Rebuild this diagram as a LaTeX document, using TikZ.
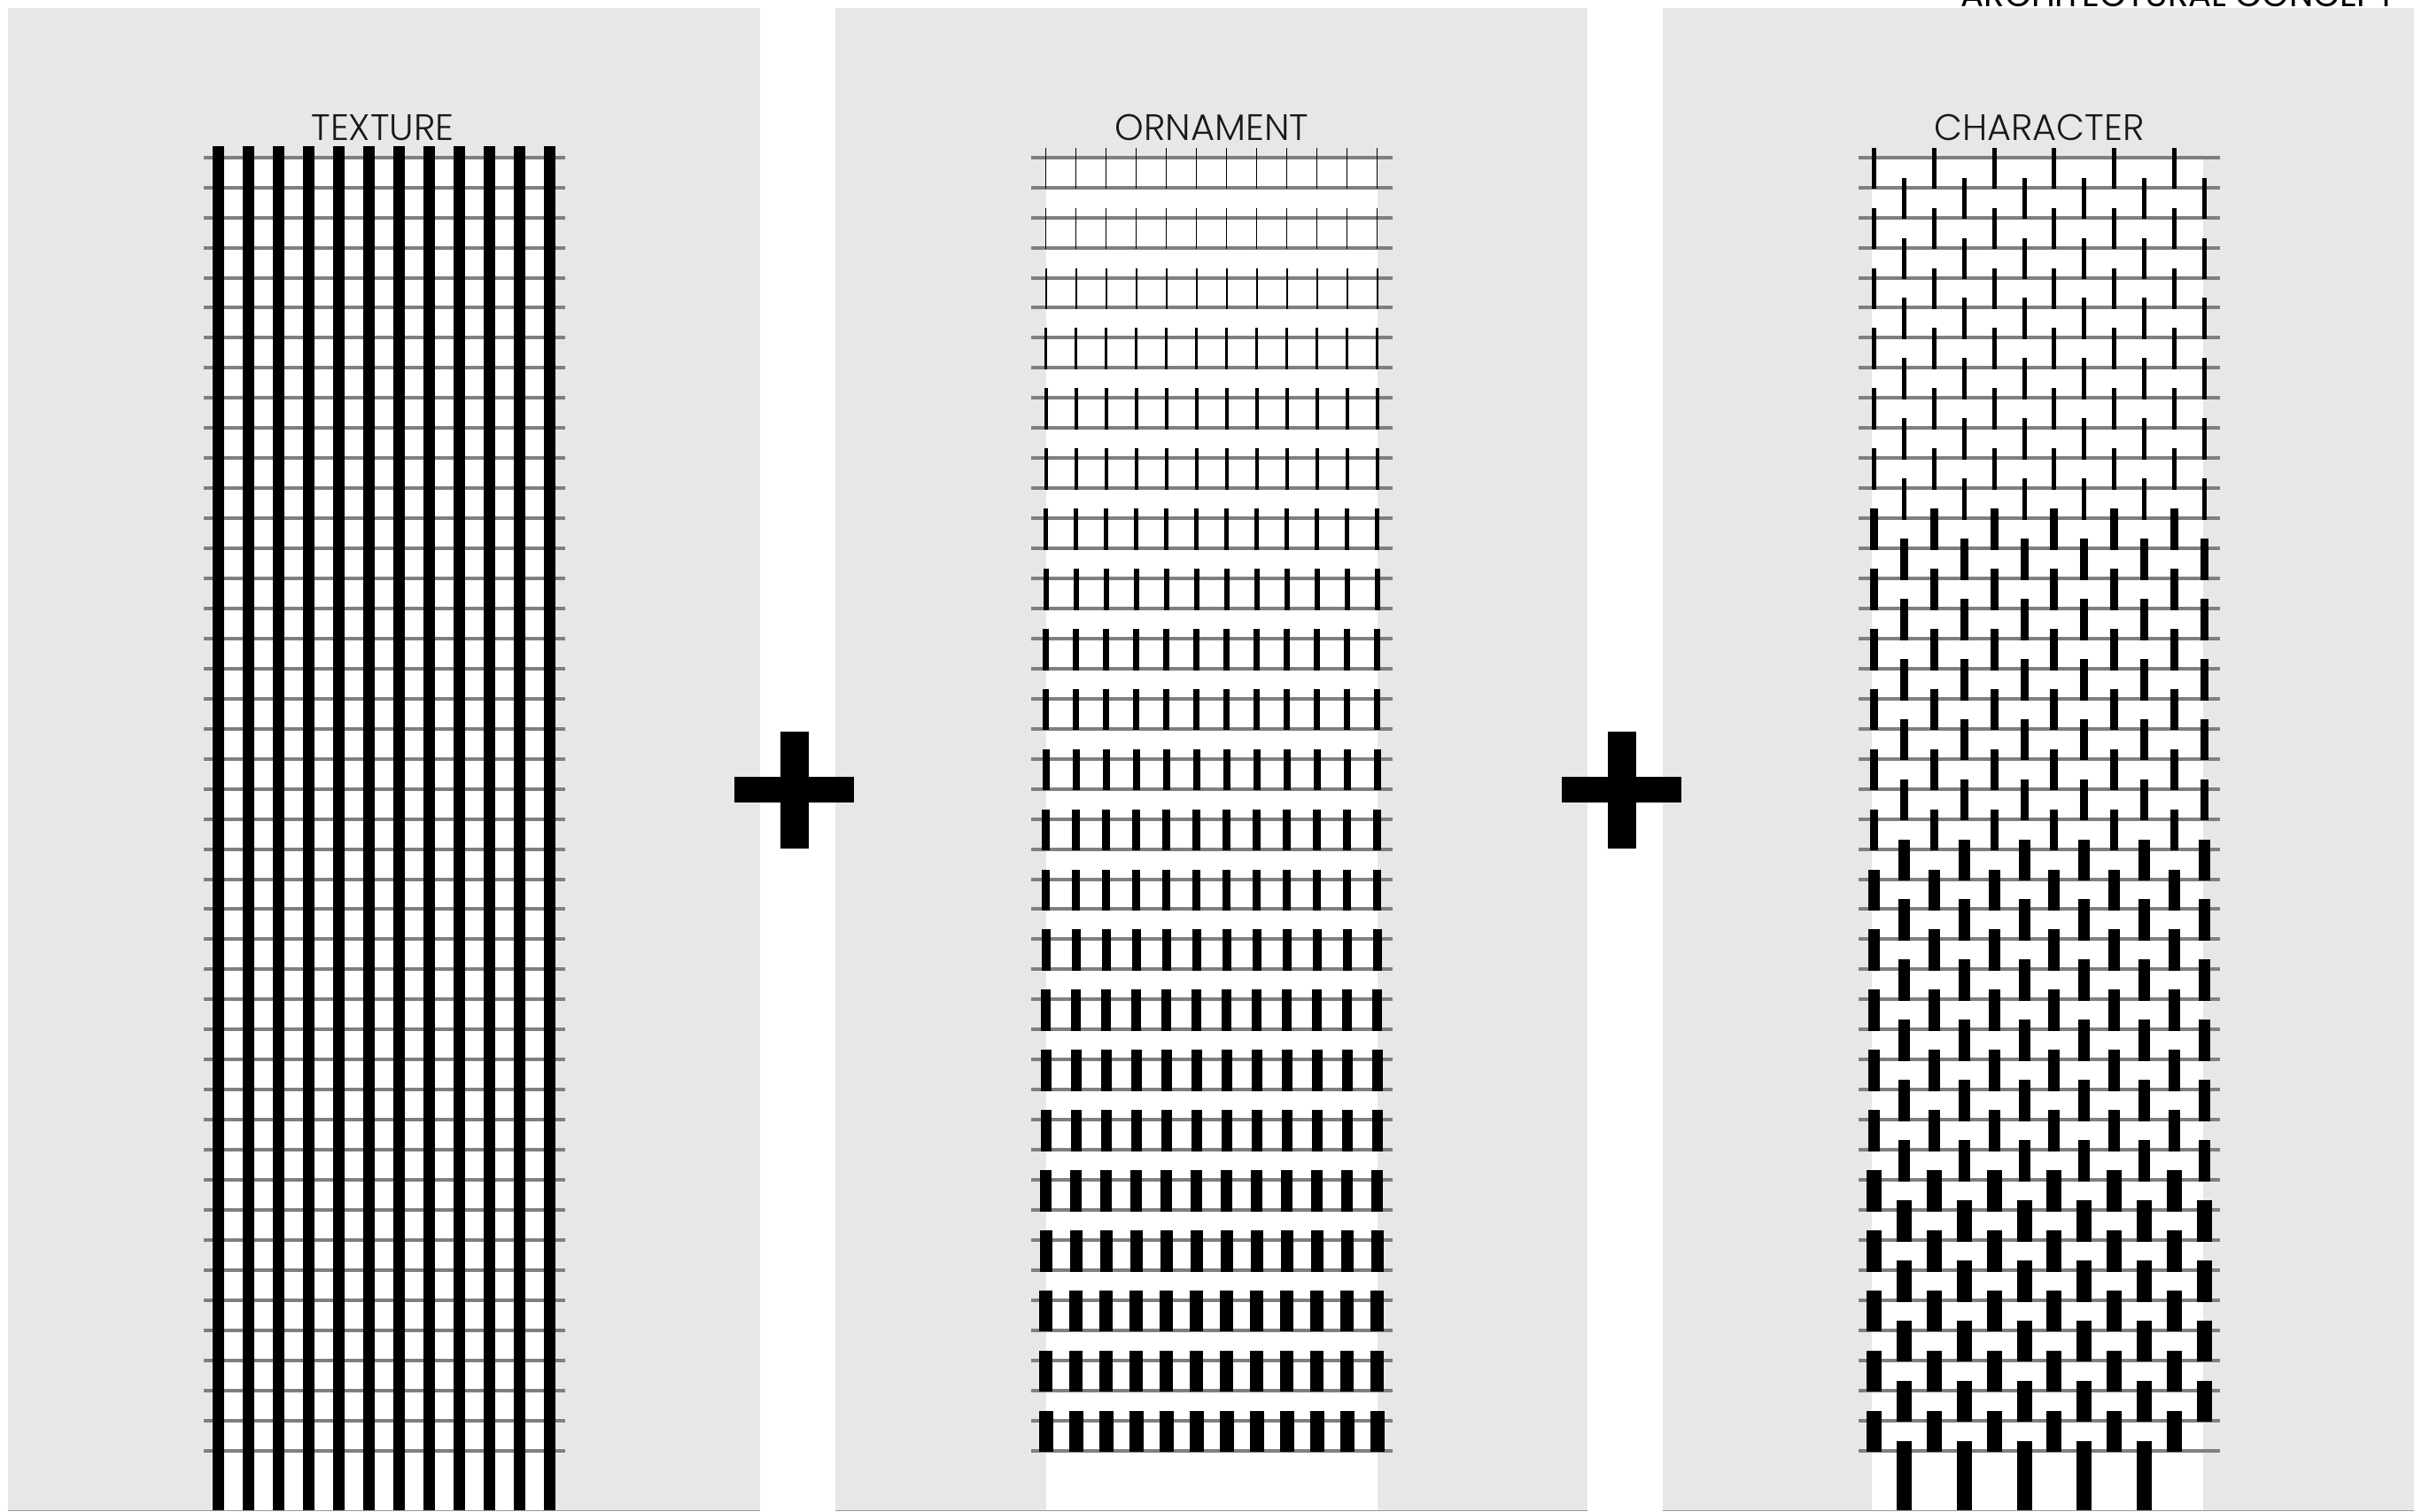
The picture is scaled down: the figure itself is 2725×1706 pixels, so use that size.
\documentclass[tikz,border=0pt]{standalone}
\usepackage{fontspec}
\newfontfamily\lblfont{Poppins Light}
\newfontfamily\hdfont{Poppins}
\definecolor{panelgray}{HTML}{E6E7E9}
\definecolor{rulegray}{HTML}{7F7F7F}
\definecolor{edgegray}{HTML}{9A9A9A}
\tikzset{
  panelbox/.style={fill=panelgray},
  ruleline/.style={draw=rulegray, line width=0.04cm},
  edgeline/.style={draw=edgegray, line width=0.012cm},
  barfill/.style={fill=black},
  paneltitle/.style={font=\lblfont\fontsize{11.8}{14}\selectfont, inner sep=0pt, anchor=base, text=black!90},
  plusbar/.style={fill=black},
}
\begin{document}
\begin{tikzpicture}[x=0.01cm,y=-0.01cm]
\useasboundingbox (0,0) rectangle (2725,1706);
\fill[white] (0,0) rectangle (2725,1706);
% panels
\foreach \px in {9,943,1877}{
  \fill[panelbox] (\px,9) rectangle ++(849,1697);
  \draw[edgeline] (\px,1705.4) -- ++(849,0);
}
% white backgrounds of the three towers
\fill[white] (240,178) rectangle (627,1705);
\fill[white] (1180.7,178) rectangle (1555,1705);
\fill[white] (2112.7,178) rectangle (2486.7,1705);
% floor lines
\foreach \i in {0,...,43}{
  \pgfmathsetmacro\yy{177.7+33.95*\i}
  \draw[ruleline] (230,\yy) -- (637.7,\yy);
  \draw[ruleline] (1164,\yy) -- (1571.7,\yy);
  \draw[ruleline] (2098,\yy) -- (2506,\yy);
}
% TEXTURE: continuous bars
\foreach \j in {0,...,11}{
  \pgfmathsetmacro\xc{246.3+34*\j}
  \fill[barfill] (\xc-6.35,165) rectangle (\xc+6.35,1705);
}
% ORNAMENT: ticks growing in width
\foreach \k in {0,...,21}{
  \pgfmathsetmacro\yt{177.7+33.95*2*\k-11}
  \pgfmathsetmacro\yb{177.7+33.95*(2*\k+1)+1.7}
  \pgfmathsetmacro\w{0.73*(\k+1)}
  \foreach \j in {0,...,11}{
    \pgfmathsetmacro\xc{1180.7+34*\j}
    \fill[barfill] (\xc-\w/2,\yt) rectangle (\xc+\w/2,\yb);
  }
}
% CHARACTER: staggered bars
\foreach \g in {0,...,43}{
  \pgfmathsetmacro\yt{177.7+33.95*\g-11}
  \pgfmathsetmacro\yb{\g<43 ? 177.7+33.95*(\g+1)+1.7 : 1705}
  \pgfmathsetmacro\w{\g<12 ? 5 : (\g<23 ? 9 : (\g<34 ? 13 : 17))}
  \pgfmathtruncatemacro\pp{mod(\g,2)}
  \pgfmathtruncatemacro\jmax{\g<43 ? 10+\pp : 9}
  \foreach \m in {0,...,5}{
    \pgfmathtruncatemacro\col{2*\m+\pp}
    \ifnum\col>\jmax\relax\else
      \pgfmathsetmacro\xc{2115.5+33.9*\col}
      \fill[barfill] (\xc-\w/2,\yt) rectangle (\xc+\w/2,\yb);
    \fi
  }
}
% plus signs
\foreach \cx in {897,1831}{
  \fill[plusbar] (\cx-68,877) rectangle (\cx+67,906);
  \fill[plusbar] (\cx-16,826) rectangle (\cx+16,958);
}
% titles
\node[paneltitle] (texture) at (432,159) {TEXTURE};
\node[paneltitle] (ornament) at (1368,159) {ORNAMENT};
\node[paneltitle] (character) at (2302,159) {CHARACTER};
\node[font=\hdfont\fontsize{11}{13}\selectfont, inner sep=0pt, anchor=base west] (concept) at (2213,7.5) {ARCHITECTURAL CONCEPT};
\end{tikzpicture}
\end{document}
